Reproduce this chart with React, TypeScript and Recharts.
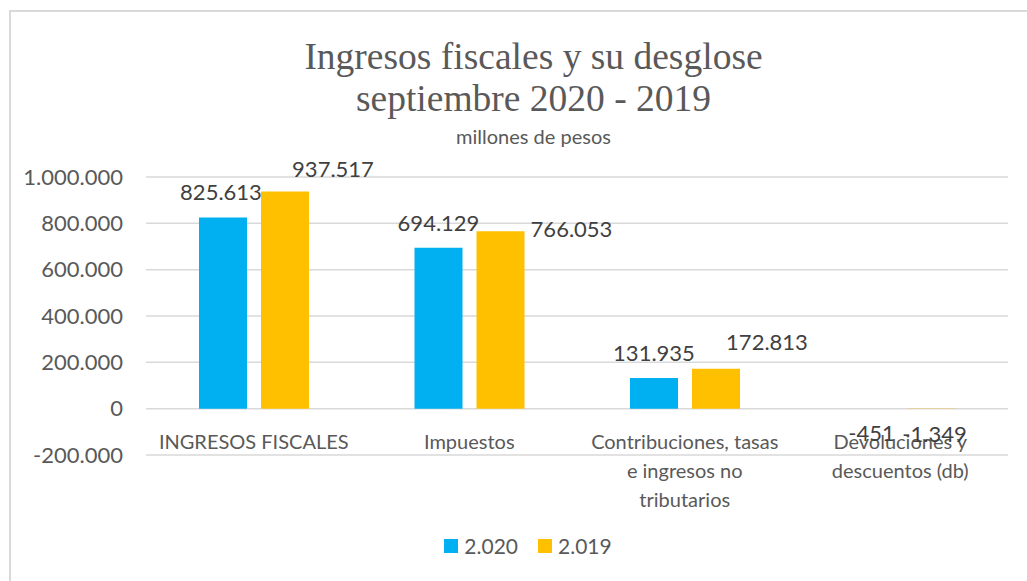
import React from "react";
import { BarChart, Bar, XAxis, YAxis, CartesianGrid, LabelList } from "recharts";

const categories = [
  "INGRESOS FISCALES",
  "Impuestos",
  "Contribuciones, tasas\ne ingresos no\ntributarios",
  "Devoluciones y\ndescuentos (db)",
];
const values2020 = [825613, 694129, 131935, -451];
const values2019 = [937517, 766053, 172813, -1349];
const yTicks = [-200000, 0, 200000, 400000, 600000, 800000, 1000000];

// label nudges (Excel labels were dragged by hand)
const offs2020 = [[-2, -25], [0, -25], [0, -25], [2, 25]];
const offs2019 = [[48, -22], [71, -2], [51, -26], [3, 25]];

const data = categories.map((name, i) => ({ name, a: values2020[i], b: values2019[i] }));

const FONT = "Lato, 'Open Sans', sans-serif";
const GREY = "#595959";

const fmt = (n: number) => {
  const s = Math.abs(n).toString().replace(/\B(?=(\d{3})+(?!\d))/g, ".");
  return n < 0 ? "-" + s : s;
};

const makeLabel = (offs: number[][]) => (p: any) => {
  const { x, y, width, value, index } = p;
  const [dx, dy] = offs[index];
  return (
    <text
      x={x + width / 2 + dx}
      y={y + dy}
      dy="0.35em"
      textAnchor="middle"
      fill="#404040"
      fontSize={22}
      fontFamily={FONT}
    >
      {fmt(value)}
    </text>
  );
};

const CatTick = (p: any) => {
  const lines = String(p.payload.value).split("\n");
  return (
    <g>
      {lines.map((l, i) => (
        <text
          key={i}
          x={p.x}
          y={p.y - 15 + i * 29}
          dy="0.35em"
          textAnchor="middle"
          fill={GREY}
          fontSize={20}
          fontFamily={FONT}
        >
          {l}
        </text>
      ))}
    </g>
  );
};

const legendItems = [["2.020", "#00B0F0"], ["2.019", "#FFC000"]];

export default function App() {
  return (
    <div style={{ position: "absolute", left: 0, top: 0, width: 1027, height: 581, background: "#fff", overflow: "hidden" }}>
      <div style={{ position: "absolute", left: 9, top: 10, width: 1030, height: 600, border: "2px solid #d9d9d9" }} />
      <div style={{ position: "absolute", left: 0, width: 1067, top: 36, textAlign: "center", fontFamily: "'Liberation Serif', serif", fontSize: 37.5, color: GREY, lineHeight: "42px" }}>
        Ingresos fiscales y su desglose<br />septiembre 2020 - 2019
      </div>
      <div style={{ position: "absolute", left: 0, width: 1067, top: 124, textAlign: "center", fontFamily: FONT, fontSize: 20, color: GREY }}>
        millones de pesos
      </div>
      <div style={{ position: "absolute", left: 0, top: 0 }}>
        <BarChart
          width={1027}
          height={581}
          data={data}
          margin={{ top: 177, right: 19, bottom: 26, left: 0 }}
          barSize={48}
          barGap={14}
        >
          <CartesianGrid vertical={false} stroke="#d9d9d9" strokeWidth={1.5} />
          <XAxis dataKey="name" height={100} axisLine={false} tickLine={false} tickSize={0} tick={<CatTick />} interval={0} />
          <YAxis
            width={146}
            domain={[-200000, 1000000]}
            ticks={yTicks}
            axisLine={false}
            tickLine={false}
            tickSize={0}
            tickMargin={23}
            tickFormatter={fmt}
            tick={{ fill: GREY, fontSize: 22, fontFamily: FONT }}
          />
          <Bar dataKey="a" fill="#00B0F0" isAnimationActive={false}>
            <LabelList dataKey="a" content={makeLabel(offs2020)} />
          </Bar>
          <Bar dataKey="b" fill="#FFC000" isAnimationActive={false}>
            <LabelList dataKey="b" content={makeLabel(offs2019)} />
          </Bar>
        </BarChart>
      </div>
      <div style={{ position: "absolute", left: 0, width: 1056, top: 533, display: "flex", justifyContent: "center", gap: 20, fontFamily: FONT, fontSize: 21, color: GREY }}>
        {legendItems.map(([t, c]) => (
          <span key={t} style={{ display: "flex", alignItems: "center", gap: 6 }}>
            <span style={{ width: 14, height: 14, background: c, display: "inline-block" }} />
            {t}
          </span>
        ))}
      </div>
    </div>
  );
}
